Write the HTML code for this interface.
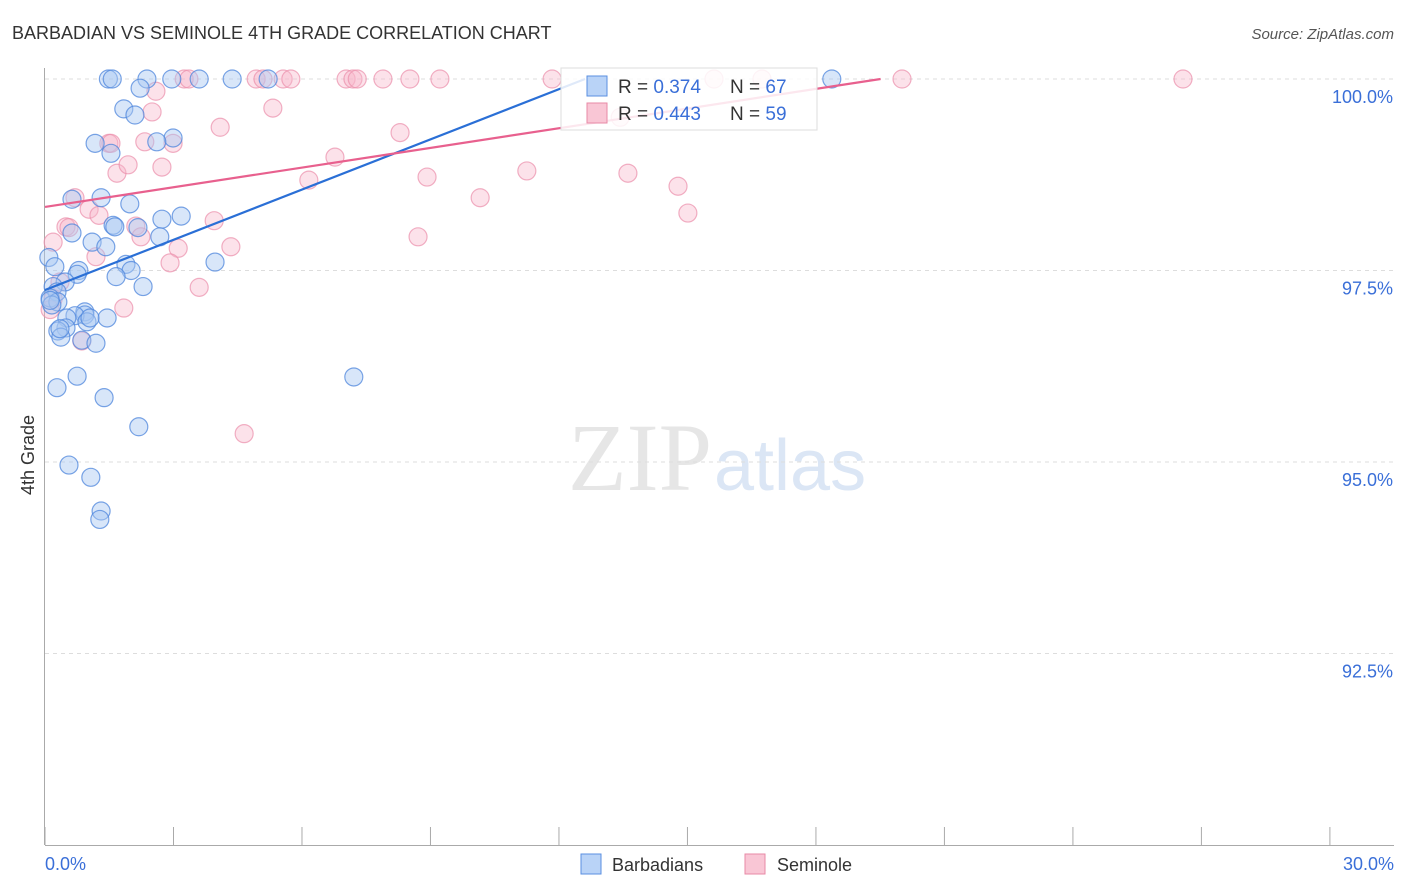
<!DOCTYPE html>
<html><head><meta charset="utf-8"><style>
body{margin:0;background:#fff;font-family:"Liberation Sans",sans-serif}
svg{display:block}
</style></head><body>
<svg id="chart" width="1406" height="892">
<text x="12" y="39" font-size="18" fill="#333">BARBADIAN VS SEMINOLE 4TH GRADE CORRELATION CHART</text>
<text x="1394" y="39" font-size="15" fill="#555" font-style="italic" text-anchor="end">Source: ZipAtlas.com</text>
<text x="712" y="490" font-size="96" fill="#e6e6e6" text-anchor="end" font-family="Liberation Serif">ZIP</text>
<text x="714" y="490" font-size="72" fill="#dbe6f5">atlas</text>
<g id="grid"></g><g id="axes"></g><g id="pts"></g><g id="lines"></g>
<text x="34" y="455" font-size="18" fill="#333" text-anchor="middle" transform="rotate(-90 34 455)">4th Grade</text>
<text x="45" y="870" font-size="18" fill="#3a6fd8">0.0%</text>
<text x="1394" y="870" font-size="18" fill="#3a6fd8" text-anchor="end">30.0%</text>
<g>
<rect x="561" y="68" width="256" height="62" fill="#fff" fill-opacity="0.85" stroke="#ddd"/>
<rect x="587" y="76" width="20" height="20" fill="#b9d3f7" stroke="#5a8fe0"/>
<rect x="587" y="103" width="20" height="20" fill="#f9c6d5" stroke="#e889a6"/>
<text x="618" y="93" font-size="19" fill="#333">R = <tspan fill="#3a6fd8">0.374</tspan><tspan x="730">N = </tspan><tspan fill="#3a6fd8">67</tspan></text>
<text x="618" y="120" font-size="19" fill="#333">R = <tspan fill="#3a6fd8">0.443</tspan><tspan x="730">N = </tspan><tspan fill="#3a6fd8">59</tspan></text>
</g>
<g>
<rect x="581" y="854" width="20" height="20" fill="#b9d3f7" stroke="#5a8fe0"/>
<text x="612" y="871" font-size="18" fill="#333">Barbadians</text>
<rect x="745" y="854" width="20" height="20" fill="#f9c6d5" stroke="#e889a6"/>
<text x="777" y="871" font-size="18" fill="#333">Seminole</text>
</g>
</svg>
<script>
const yTicks=[100,97.5,95,92.5];
const yTickLabels=["100.0%","97.5%","95.0%","92.5%"];
const xTicks=[0,3,6,9,12,15,18,21,24,27,30];
const blueX=[1.48,1.57,2.38,2.96,3.6,4.37,5.21,18.37,2.22,1.84,2.1,2.99,1.17,2.61,1.54,0.63,1.31,1.98,3.18,2.73,1.59,1.63,2.17,0.63,2.68,1.1,1.42,0.09,3.97,0.23,1.89,2.01,0.79,0.75,1.66,0.47,2.29,0.19,0.28,0.12,0.3,0.16,0.93,0.93,0.7,0.51,1.45,0.98,0.49,0.3,0.37,0.86,1.19,0.28,0.75,7.21,1.38,2.19,0.56,1.07,1.31,1.28,0.12,0.35,1.05];
const blueY=[100,100,100,100,100,100,100,100,99.88,99.61,99.53,99.23,99.16,99.18,99.03,98.43,98.45,98.37,98.21,98.17,98.09,98.07,98.06,97.99,97.94,97.87,97.81,97.67,97.61,97.55,97.58,97.5,97.5,97.45,97.42,97.35,97.29,97.29,97.22,97.14,97.09,97.05,96.96,96.92,96.91,96.88,96.88,96.83,96.75,96.71,96.63,96.59,96.55,95.97,96.12,96.11,95.84,95.46,94.96,94.8,94.36,94.25,97.11,96.74,96.88];
const pinkX=[0.19,0.49,0.56,0.7,1.03,1.26,1.49,1.54,1.68,1.94,2.12,2.24,2.33,2.5,2.59,2.73,2.99,3.11,2.92,3.25,3.36,3.6,3.95,4.09,4.34,4.93,5.09,5.32,5.56,5.74,6.16,6.77,7.03,7.19,7.29,7.89,8.29,8.52,8.71,8.92,9.22,10.16,11.25,11.84,13.43,13.61,14.78,15.01,15.62,16.74,20.01,26.57,4.65,0.86,1.84,0.35,0.19,0.12,1.19];
const pinkY=[97.87,98.07,98.06,98.45,98.3,98.22,99.16,99.16,98.77,98.88,98.08,97.94,99.18,99.57,99.84,98.85,99.16,97.79,97.6,100,100,97.28,98.15,99.37,97.81,100,100,99.62,100,100,98.68,98.98,100,100,100,100,99.3,100,97.94,98.72,100,98.45,98.8,100,99.5,98.77,98.6,98.25,100,100,100,100,95.37,96.58,97.01,97.35,97.13,96.99,97.68];
const blueFit=[97.245,0.2185];
const pinkFit=[98.33,0.0856];
const xs=v=>45+v*42.83, ys=v=>79+(100-v)*76.6;
const NS='http://www.w3.org/2000/svg';
function mk(t,a,p){const e=document.createElementNS(NS,t);for(const k in a)e.setAttribute(k,a[k]);document.getElementById(p).appendChild(e);return e;}
yTicks.forEach((v,i)=>{
 const l=mk('line',{x1:45,x2:1394,y1:ys(v),y2:ys(v),stroke:'#ddd','stroke-dasharray':'4,4'},'grid');
 
 
 const t=mk('text',{x:1393,y:ys(v)+24,'font-size':18,fill:'#3a6fd8','text-anchor':'end'},'grid');t.textContent=yTickLabels[i];
 
 
});
const ax=mk('line',{x1:44.5,x2:44.5,y1:68,y2:845,stroke:'#aaa'},'axes');


const bx=mk('line',{x1:45,x2:1394,y1:845.5,y2:845.5,stroke:'#aaa'},'axes');


xTicks.forEach(v=>{const t=mk('line',{x1:xs(v),x2:xs(v),y1:827,y2:845,stroke:'#aaa'},'axes');
 
 });
pinkX.forEach((x,i)=>{const c=mk('circle',{cx:xs(x),cy:ys(pinkY[i]),r:9,fill:'#f7b6ca','fill-opacity':0.4,stroke:'#eb8fab','stroke-opacity':0.7,'stroke-width':1.2},'pts');
 
 });
blueX.forEach((x,i)=>{const c=mk('circle',{cx:xs(x),cy:ys(blueY[i]),r:9,fill:'#a9c8f2','fill-opacity':0.45,stroke:'#4d86dc','stroke-opacity':0.75,'stroke-width':1.2},'pts');
 
 });
function fitLine(f,col,name){const xe=(100-f[0])/f[1];
 const l=mk('line',{x1:xs(0),y1:ys(f[0]),x2:xs(xe),y2:ys(100),stroke:col,'stroke-width':2.2},'lines');
 
 }
fitLine(blueFit,'#2a6fd6','barbadian-trend-line');
fitLine(pinkFit,'#e8608e','seminole-trend-line');
</script>
</body></html>
